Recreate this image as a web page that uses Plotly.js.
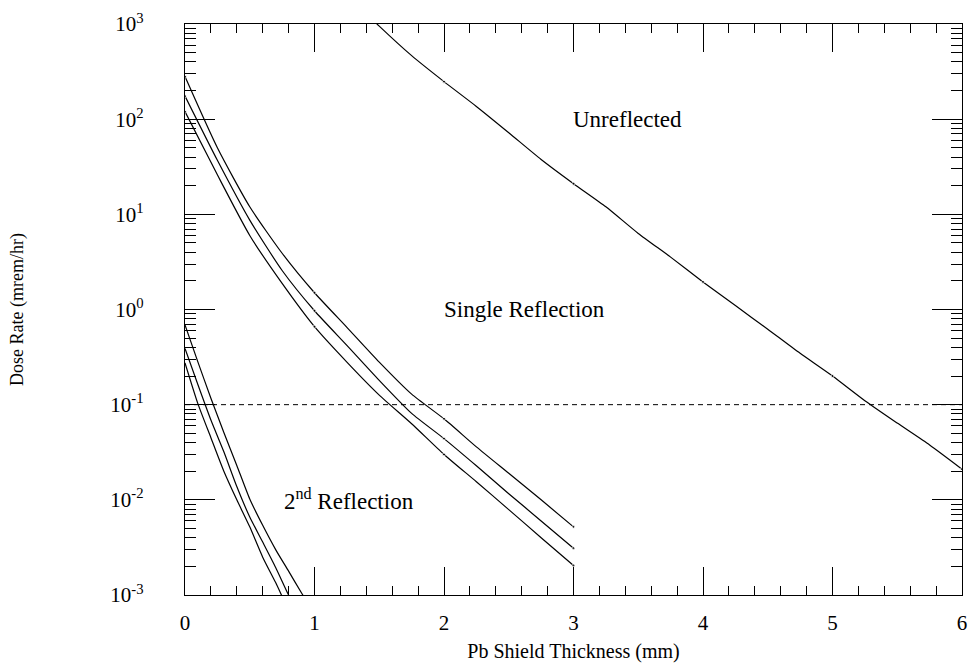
<!DOCTYPE html>
<html>
<head>
<meta charset="utf-8">
<script src="https://cdn.plot.ly/plotly-3.0.1.min.js"></script>
<style>html,body{margin:0;padding:0;background:#fff;}#chart{width:972px;height:665px;}</style>
</head>
<body>
<div id="chart"></div>
<script>
// Unreflected
const xUnref = [1.25, 1.5, 1.75, 2.0, 2.25, 2.5, 2.75, 3.0, 3.25, 3.5, 3.75, 4.0, 4.25, 4.5, 4.75, 5.0, 5.25, 5.5, 5.75, 6.0];
const yUnref = [2050, 950, 465, 248, 136, 72, 37.7, 21, 12, 6.3, 3.55, 1.95, 1.1, 0.62, 0.346, 0.2, 0.11, 0.064, 0.0377, 0.021];

// Single reflection (three curves)
const xSingle = [0, 0.25, 0.5, 0.75, 1.0, 1.25, 1.5, 1.75, 2.0, 2.25, 2.5, 2.75, 3.0];
const ySingleHigh = [280, 50, 12, 3.9, 1.5, 0.65, 0.28, 0.129, 0.071, 0.036, 0.019, 0.010, 0.0052];
const ySingleMid  = [175, 37, 8.7, 2.57, 0.97, 0.42, 0.18, 0.081, 0.044, 0.0228, 0.0116, 0.0060, 0.0031];
const ySingleLow  = [120, 26, 6.0, 1.88, 0.66, 0.28, 0.126, 0.063, 0.030, 0.0155, 0.0079, 0.0040, 0.00204];

// Second reflection (three curves)
const xSecond = [0, 0.1, 0.2, 0.3, 0.4, 0.5, 0.6, 0.7, 0.8, 0.9, 1.0];
const ySecondHigh = [0.69, 0.28, 0.117, 0.051, 0.023, 0.0102, 0.0054, 0.0030, 0.00178, 0.00105, 0.00063];
const ySecondMid  = [0.39, 0.162, 0.069, 0.032, 0.0138, 0.0066, 0.0036, 0.00195, 0.0010, 0.00056, 0.00032];
const ySecondLow  = [0.275, 0.102, 0.045, 0.020, 0.010, 0.0052, 0.0025, 0.00135, 0.00069, 0.00038, 0.0002];

// Limit line
const xLimit = [0, 6];
const yLimit = [0.1, 0.1];

// Axis ticks
const yTickVals = [0.001, 0.01, 0.1, 1, 10, 100, 1000];
const yTickText = ['10<sup>-3</sup>', '10<sup>-2</sup>', '10<sup>-1</sup>', '10<sup>0</sup>', '10<sup>1</sup>', '10<sup>2</sup>', '10<sup>3</sup>'];
const xTickVals = [0, 1, 2, 3, 4, 5, 6];

const minorY = [];
yTickVals.slice(0, -1).forEach(d => { for (let k = 2; k <= 9; k++) minorY.push(d * k); });

const FONT = 'Liberation Serif, Times New Roman, serif';
const lineStyle = {color: '#000', width: 1.2, shape: 'spline', smoothing: 0.6};
function markSizes(xs) { return xs.map(x => Number.isInteger(x) ? 3 : 0); }

const traces = [
  {x: xUnref, y: yUnref, mode: 'lines+markers', line: lineStyle, marker: {color: '#000', size: markSizes(xUnref)}},
  {x: xSingle, y: ySingleHigh, mode: 'lines+markers', line: lineStyle, marker: {color: '#000', size: markSizes(xSingle)}},
  {x: xSingle, y: ySingleMid, mode: 'lines+markers', line: lineStyle, marker: {color: '#000', size: markSizes(xSingle)}},
  {x: xSingle, y: ySingleLow, mode: 'lines+markers', line: lineStyle, marker: {color: '#000', size: markSizes(xSingle)}},
  {x: xSecond, y: ySecondHigh, mode: 'lines', line: lineStyle},
  {x: xSecond, y: ySecondMid, mode: 'lines', line: lineStyle},
  {x: xSecond, y: ySecondLow, mode: 'lines', line: lineStyle},
  {x: xLimit, y: yLimit, mode: 'lines', line: {color: '#000', width: 1, dash: '5px,4px'}}
];

const layout = {
  width: 972, height: 665,
  margin: {l: 185, r: 10, t: 24, b: 70},
  paper_bgcolor: '#fff', plot_bgcolor: '#fff',
  showlegend: false,
  font: {family: FONT, color: '#000', size: 17},
  xaxis: {
    range: [0, 6], tickmode: 'array', tickvals: xTickVals,
    ticks: 'inside', ticklen: 28, tickwidth: 1, tickcolor: '#000',
    minor: {dtick: 0.2, ticks: 'inside', ticklen: 9, tickwidth: 1, tickcolor: '#000'},
    showline: true, linecolor: '#000', linewidth: 1.3, mirror: 'ticks',
    showgrid: false, zeroline: false,
    tickfont: {family: FONT, size: 21},
    ticklabelstandoff: 8,
    title: {text: 'Pb Shield Thickness (mm)', font: {family: FONT, size: 20}, standoff: 10}
  },
  yaxis: {
    type: 'log', range: [-3, 3], tickmode: 'array', tickvals: yTickVals, ticktext: yTickText,
    ticks: 'inside', ticklen: 30, tickwidth: 1, tickcolor: '#000',
    minor: {tickmode: 'array', tickvals: minorY, ticks: 'inside', ticklen: 11, tickwidth: 1, tickcolor: '#000'},
    showline: true, linecolor: '#000', linewidth: 1.3, mirror: 'ticks',
    showgrid: false, zeroline: false,
    tickfont: {family: FONT, size: 21},
    ticklabelstandoff: 36,
    title: {text: 'Dose Rate (mrem/hr)', font: {family: FONT, size: 18}, standoff: 82}
  },
  annotations: [
    {x: 3.42, y: 2.0, xref: 'x', yref: 'y', text: 'Unreflected', showarrow: false, font: {family: FONT, size: 23}},
    {x: 2.624, y: 0.0, xref: 'x', yref: 'y', text: 'Single Reflection', showarrow: false, font: {family: FONT, size: 23}},
    {x: 1.27, y: -2.0, xref: 'x', yref: 'y', text: '2<sup>nd</sup> Reflection', showarrow: false, font: {family: FONT, size: 23}}
  ]
};

Plotly.newPlot('chart', traces, layout, {displayModeBar: false, staticPlot: true});
</script>
</body>
</html>
